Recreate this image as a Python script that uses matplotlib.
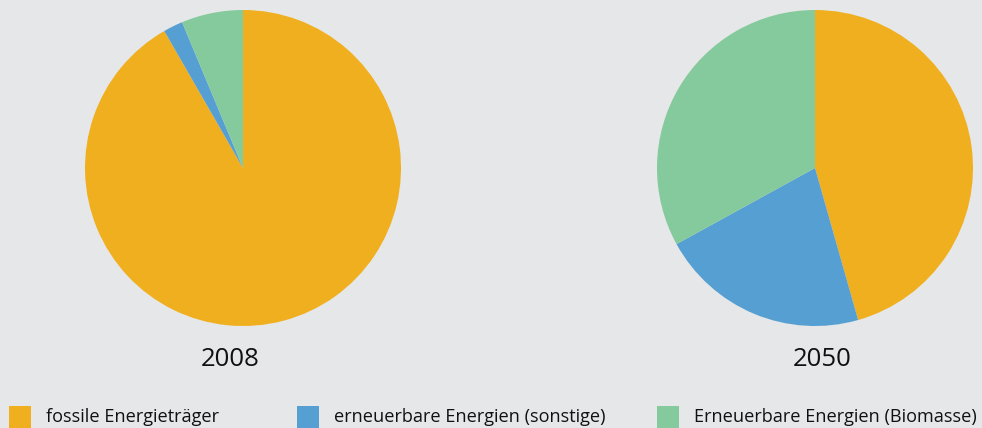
import matplotlib
matplotlib.use("Agg")
import matplotlib.pyplot as plt
from matplotlib.patches import Rectangle

categories = ["fossile Energieträger", "erneuerbare Energien (sonstige)", "Erneuerbare Energien (Biomasse)"]
values_2008 = [91.7, 2.0, 6.3]
values_2050 = [45.6, 21.4, 33.0]
years = ["2008", "2050"]
colors = ["#F0AF1E", "#559FD3", "#85CA9C"]
bg = "#E6E7E8"

W, H = 982, 428
fig = plt.figure(figsize=(W / 100, H / 100), dpi=100, facecolor=bg)
plt.rcParams['font.family'] = ['Open Sans', 'DejaVu Sans']

centers = [(243, 168), (815, 168)]
label_x = [230, 822]
R = 158
for (cx, cy), lx, vals, yr in zip(centers, label_x, [values_2008, values_2050], years):
    ax = fig.add_axes([(cx - R) / W, (H - cy - R) / H, 2 * R / W, 2 * R / H])
    ax.set_facecolor(bg)
    ax.pie(vals, colors=colors, startangle=90, counterclock=False,
           wedgeprops=dict(linewidth=0), radius=1)
    ax.set_xlim(-1, 1)
    ax.set_ylim(-1, 1)
    ax.set_aspect('auto')
    ax.axis('off')
    fig.text(lx / W, 1 - 359 / H, yr, ha='center', va='center', fontsize=18.5, color='#111111')

leg_x = [9, 297, 657]
for x, lab, c in zip(leg_x, categories, colors):
    fig.patches.append(Rectangle((x / W, 0), 22 / W, 22 / H, transform=fig.transFigure,
                                 facecolor=c, edgecolor='none'))
    fig.text((x + 37) / W, 1 - 417 / H, lab, ha='left', va='center', fontsize=13.1, color='#111111')

fig.savefig("out.png", dpi=100, facecolor=bg)
